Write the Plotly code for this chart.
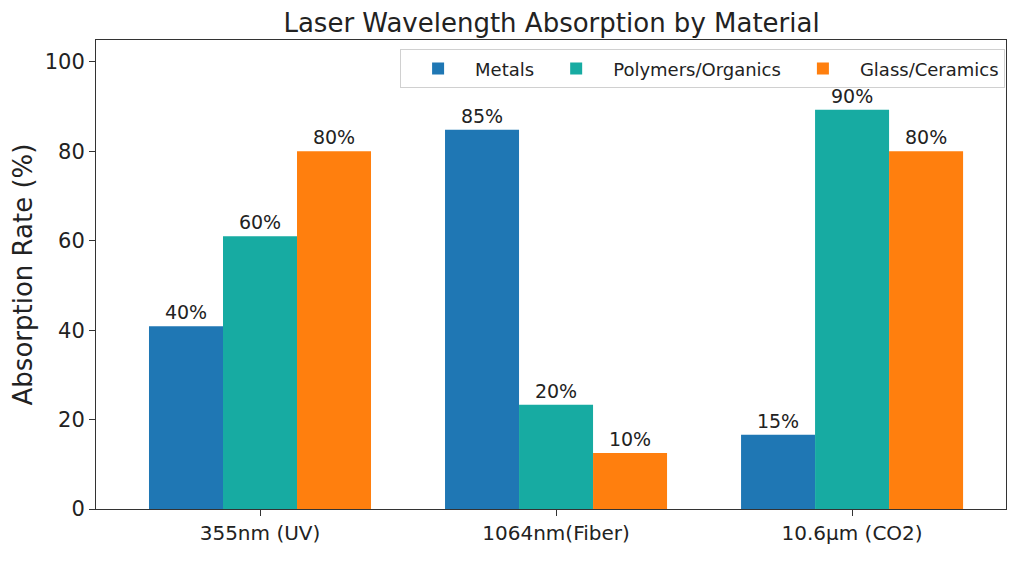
import plotly.graph_objects as go

# laser types on the x axis
lasers = ["355nm (UV)", "1064nm(Fiber)", "10.6μm (CO2)"]

metals = [40.9, 84.8, 16.6]
polymers = [61.0, 23.3, 89.3]
glass = [80.0, 12.5, 80.0]
metals_lbl = ["40%", "85%", "15%"]
polymers_lbl = ["60%", "20%", "90%"]
glass_lbl = ["80%", "10%", "80%"]

series = [
    ("Metals", metals, metals_lbl, "#1f77b4"),
    ("Polymers/Organics", polymers, polymers_lbl, "#17aba2"),
    ("Glass/Ceramics", glass, glass_lbl, "#ff7f0e"),
]

fig = go.Figure()
for name, vals, lbls, col in series:
    fig.add_bar(
        x=lasers, y=vals, name=name, marker_color=col, marker_line_width=0,
        text=lbls, textposition="outside", cliponaxis=False,
        textfont=dict(size=19, color="#222"),
    )

# page has an 8px body margin, so the figure is sized to fill the rest
fig.update_layout(
    width=1016, height=568,
    paper_bgcolor="white", plot_bgcolor="white",
    font=dict(family="DejaVu Sans", color="#222"),
    margin=dict(l=88, r=18, t=32, b=67),
    barmode="group", bargap=0.25, bargroupgap=0,
    title=dict(text="Laser Wavelength Absorption by Material", x=0.535, xanchor="center",
               y=0.974, yanchor="middle", font=dict(size=26)),
    legend=dict(orientation="h", x=0.999, xanchor="right", y=0.98, yanchor="top",
                bordercolor="#d0d0d0", borderwidth=1, font=dict(size=18),
                bgcolor="rgba(255,255,255,0.9)", traceorder="normal", itemwidth=64),
    showlegend=True,
)
fig.update_xaxes(
    range=[-0.554, 2.52], showline=True, linecolor="#333", linewidth=1, mirror=True,
    ticks="outside", ticklen=6, tickcolor="#333", tickfont=dict(size=20), showgrid=False,
    automargin=False,
)
fig.update_yaxes(
    range=[0, 104.9], tickvals=[0, 20, 40, 60, 80, 100], showline=True, linecolor="#333",
    linewidth=1, mirror=True, ticks="outside", ticklen=6, tickcolor="#333",
    tickfont=dict(size=21), showgrid=False, zeroline=False, automargin=False,
    title=dict(text="Absorption Rate (%)", font=dict(size=26), standoff=12),
)

fig.write_html("out.html")
